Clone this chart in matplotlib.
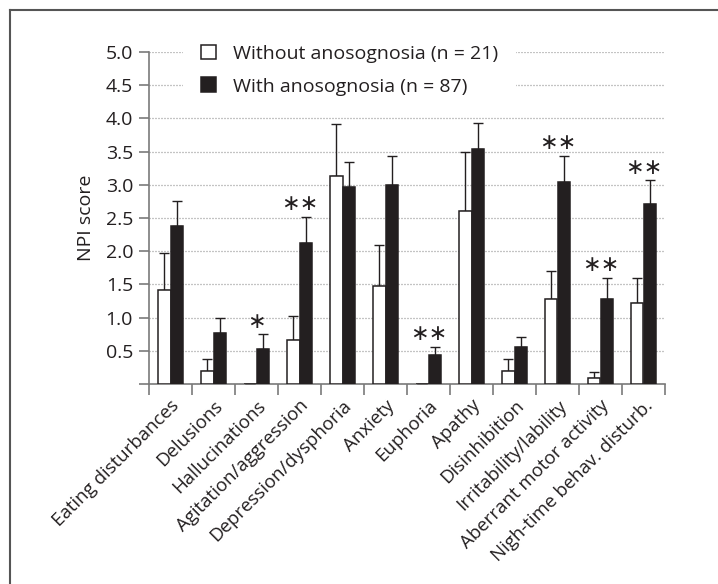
import numpy as np
import matplotlib
matplotlib.use("Agg")
import matplotlib.pyplot as plt
from matplotlib.lines import Line2D

plt.rcParams['font.family'] = ['Open Sans', 'DejaVu Sans']

categories = [
    "Eating disturbances", "Delusions", "Hallucinations", "Agitation/aggression",
    "Depression/dysphoria", "Anxiety", "Euphoria", "Apathy", "Disinhibition",
    "Irritability/lability", "Aberrant motor activity", "Nigh-time behav. disturb.",
]
without_mean = [1.42, 0.19, 0.0, 0.66, 3.13, 1.47, 0.0, 2.61, 0.19, 1.28, 0.09, 1.22]
without_err = [0.55, 0.19, 0.0, 0.36, 0.79, 0.63, 0.0, 0.89, 0.19, 0.42, 0.09, 0.38]
with_mean = [2.38, 0.77, 0.53, 2.13, 2.96, 2.99, 0.43, 3.54, 0.56, 3.04, 1.28, 2.71]
with_err = [0.37, 0.22, 0.22, 0.39, 0.39, 0.44, 0.13, 0.39, 0.15, 0.40, 0.32, 0.36]
stars = ["", "", "∗", "∗∗", "", "", "∗∗", "", "", "∗∗", "∗∗", "∗∗"]

dark = "#231f20"
gray = "#7a7a7a"
fs = 14

fig = plt.figure(figsize=(7.18, 5.84), dpi=100)
ax = fig.add_axes([149 / 718, 200 / 584, 516 / 718, 332 / 584])

x = np.arange(len(categories))
w = 0.28
ax.bar(x - w / 2, without_mean, w, color="white", edgecolor=dark, linewidth=1.1,
       label="Without anosognosia (n = 21)", zorder=3)
ax.bar(x + w / 2, with_mean, w, color=dark, edgecolor=dark, linewidth=1.1,
       label="With anosognosia (n = 87)", zorder=3)
ax.errorbar(x - w / 2, without_mean, yerr=[np.zeros(len(x)), without_err], fmt="none",
            ecolor=dark, elinewidth=1.0, capsize=3.8, capthick=1.0, zorder=2)
ax.errorbar(x + w / 2, with_mean, yerr=[np.zeros(len(x)), with_err], fmt="none",
            ecolor=dark, elinewidth=1.0, capsize=3.8, capthick=1.0, zorder=2)

for i, s in enumerate(stars):
    if s:
        ax.text(i, with_mean[i] + with_err[i] + 0.19, s, ha="center", va="center",
                fontsize=16, color=dark, family="DejaVu Sans")

ax.set_xlim(-0.5, len(categories) - 0.5)
ax.set_ylim(0, 5.0)
yt = np.arange(0, 5.01, 0.5)
ax.set_yticks(yt)
ax.set_yticklabels([""] + ["%.1f" % v for v in yt[1:]])
ax.set_xticks(np.arange(-0.5, len(categories), 1.0))
ax.set_xticklabels([])
ax.set_xticks(x, minor=True)
ax.set_xticklabels(categories, minor=True, rotation=45, ha="right", va="top",
                   rotation_mode="anchor")
ax.tick_params(axis="x", which="minor", length=0, pad=9, labelsize=13.4, labelcolor=dark)
ax.tick_params(axis="x", which="major", length=8, width=1.2, color=gray)
ax.tick_params(axis="y", length=7.5, width=1.2, color=gray, labelsize=fs,
               labelcolor=dark, pad=4)

for side in ["top", "right"]:
    ax.spines[side].set_visible(False)
for side in ["left", "bottom"]:
    ax.spines[side].set_color(gray)
    ax.spines[side].set_linewidth(1.2)

ax.yaxis.grid(True, linestyle=(0, (0.8, 1.6)), color="#8a8a8a", linewidth=0.9, zorder=0)
ax.set_axisbelow(True)

ax.set_ylabel("NPI score", fontsize=fs, color=dark)
ax.yaxis.set_label_coords(-0.105, 0.5)

leg = ax.legend(loc="upper left", bbox_to_anchor=(0.066, 1.075), fontsize=fs,
                frameon=True, facecolor="white", edgecolor="none", framealpha=1,
                fancybox=False, borderpad=0.9, borderaxespad=0,
                handlelength=0.8, handleheight=0.8, handletextpad=0.88,
                labelspacing=0.75)
for t in leg.get_texts():
    t.set_color(dark)
leg.set_zorder(5)

fig.add_artist(Line2D([10 / 718, 10 / 718], [0, 574 / 584], color="#555555", lw=1.5))
fig.add_artist(Line2D([10 / 718, 1], [574 / 584, 574 / 584], color="#555555", lw=1.5))

fig.savefig("out.png", dpi=100)
